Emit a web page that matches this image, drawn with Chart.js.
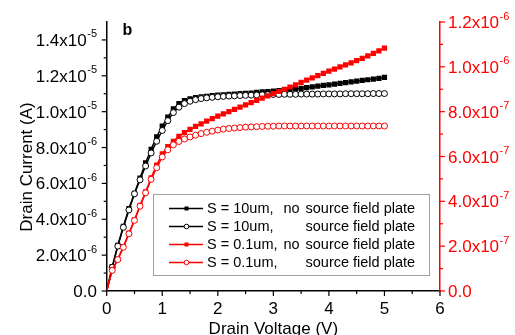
<!DOCTYPE html>
<html>
<head>
<meta charset="utf-8">
<script src="https://cdn.jsdelivr.net/npm/chart.js@4.4.0/dist/chart.umd.min.js"></script>
<style>
  html, body { margin: 0; padding: 0; background: #fff; }
  canvas { display: block; }
</style>
</head>
<body>
<canvas id="ivChart" width="515" height="335"></canvas>
<script>
// drain voltage sweep (V)
const VOLTAGE = [0, 0.1, 0.2, 0.3, 0.4, 0.5, 0.6, 0.7, 0.8, 0.9,
  1.0, 1.1, 1.2, 1.3, 1.4, 1.5, 1.6, 1.7, 1.8, 1.9,
  2.0, 2.1, 2.2, 2.3, 2.4, 2.5, 2.6, 2.7, 2.8, 2.9,
  3.0, 3.1, 3.2, 3.3, 3.4, 3.5, 3.6, 3.7, 3.8, 3.9,
  4.0, 4.1, 4.2, 4.3, 4.4, 4.5, 4.6, 4.7, 4.8, 4.9, 5.0];

// S = 10um (left axis, in 1e-6 A)
const S10_NO_FP = [0, 1.36, 2.55, 3.6, 4.6, 5.45, 6.3, 7.15, 7.9, 8.6,
  9.2, 9.7, 10.15, 10.45, 10.62, 10.72, 10.78, 10.82, 10.86, 10.89,
  10.92, 10.94, 10.96, 10.98, 11.0, 11.02, 11.04, 11.07, 11.1, 11.12,
  11.15, 11.18, 11.21, 11.24, 11.27, 11.3, 11.34, 11.38, 11.42, 11.46,
  11.5, 11.54, 11.58, 11.62, 11.66, 11.7, 11.74, 11.78, 11.82, 11.86, 11.91];
const S10_FP = [0, 1.32, 2.5, 3.55, 4.52, 5.42, 6.2, 6.97, 7.7, 8.35,
  8.95, 9.5, 9.95, 10.25, 10.45, 10.58, 10.67, 10.73, 10.77, 10.8,
  10.83, 10.85, 10.87, 10.88, 10.9, 10.91, 10.92, 10.93, 10.94, 10.95,
  10.96, 10.96, 10.97, 10.97, 10.97, 10.98, 10.98, 10.98, 10.98, 10.99,
  10.99, 10.99, 10.99, 11.0, 11.0, 11.0, 11.0, 11.0, 11.01, 11.01, 11.01];

// S = 0.1um (right axis, in 1e-7 A)
const S01_NO_FP = [0, 0.94, 1.42, 1.98, 2.58, 3.17, 3.82, 4.42, 5.05, 5.62,
  6.12, 6.44, 6.68, 6.9, 7.06, 7.21, 7.34, 7.46, 7.58, 7.69,
  7.8, 7.9, 8.0, 8.1, 8.2, 8.3, 8.4, 8.5, 8.6, 8.7,
  8.8, 8.9, 9.0, 9.1, 9.2, 9.31, 9.41, 9.51, 9.61, 9.71,
  9.81, 9.9, 10.0, 10.09, 10.18, 10.28, 10.38, 10.49, 10.6, 10.71, 10.83];
const S01_FP = [0, 0.92, 1.4, 1.95, 2.55, 3.15, 3.78, 4.38, 4.98, 5.5,
  5.98, 6.3, 6.52, 6.67, 6.78, 6.87, 6.95, 7.02, 7.08, 7.13,
  7.18, 7.22, 7.25, 7.27, 7.29, 7.31, 7.32, 7.33, 7.34, 7.35,
  7.35, 7.36, 7.36, 7.36, 7.36, 7.36, 7.36, 7.36, 7.36, 7.36,
  7.36, 7.36, 7.36, 7.36, 7.36, 7.36, 7.36, 7.36, 7.36, 7.36, 7.36];

// axis ticks
const X_TICKS = [0, 1, 2, 3, 4, 5, 6];
const X_MINOR = [0.5, 1.5, 2.5, 3.5, 4.5, 5.5];
const LEFT_TICKS = [0, 2e-6, 4e-6, 6e-6, 8e-6, 1e-5, 1.2e-5, 1.4e-5];
const LEFT_MINOR = [1e-6, 3e-6, 5e-6, 7e-6, 9e-6, 1.1e-5, 1.3e-5];
const LEFT_TICK_LABELS = [['0.0', ''], ['2.0x10', '-6'], ['4.0x10', '-6'], ['6.0x10', '-6'],
  ['8.0x10', '-6'], ['1.0x10', '-5'], ['1.2x10', '-5'], ['1.4x10', '-5']];
const RIGHT_TICKS = [0, 2e-7, 4e-7, 6e-7, 8e-7, 1e-6, 1.2e-6];
const RIGHT_MINOR = [1e-7, 3e-7, 5e-7, 7e-7, 9e-7, 1.1e-6];
const RIGHT_TICK_LABELS = [['0.0', ''], ['2.0x10', '-7'], ['4.0x10', '-7'], ['6.0x10', '-7'],
  ['8.0x10', '-7'], ['1.0x10', '-6'], ['1.2x10', '-6']];

const LEGEND_ROWS = [
  ['S = 10um,', 'no', 'source field plate'],
  ['S = 10um,', '', 'source field plate'],
  ['S = 0.1um,', 'no', 'source field plate'],
  ['S = 0.1um,', '', 'source field plate']
];

const FONT = '"Liberation Sans", Arial, sans-serif';
const RED = '#ff0000';

const toPoints = (vals, unit) => VOLTAGE.map((v, i) => ({ x: v, y: vals[i] * unit }));
const hideFirst = r => c => (c.dataIndex === 0 ? 0 : r);

function sciLabel(ctx, parts, x, y, align) {
  ctx.font = `17px ${FONT}`;
  const mainW = ctx.measureText(parts[0]).width;
  ctx.font = `11px ${FONT}`;
  const expW = parts[1] ? ctx.measureText(parts[1]).width + 0.5 : 0;
  const left = align === 'right' ? x - mainW - expW : x;
  ctx.textAlign = 'left';
  ctx.textBaseline = 'alphabetic';
  ctx.font = `17px ${FONT}`;
  ctx.fillText(parts[0], left, y + 6);
  if (parts[1]) {
    ctx.font = `11px ${FONT}`;
    ctx.fillText(parts[1], left + mainW + 0.5, y - 2.5);
  }
}

function vTicks(ctx, scale, values, x, len) {
  values.forEach(v => {
    const y = scale.getPixelForValue(v);
    ctx.beginPath();
    ctx.moveTo(x, y);
    ctx.lineTo(x + len, y);
    ctx.stroke();
  });
}

const decorations = {
  id: 'decorations',
  afterDraw(chart) {
    const { ctx, chartArea: a, scales } = chart;
    const xs = scales.x, yl = scales.y, yr = scales.y2;
    ctx.save();

    // x ticks
    ctx.strokeStyle = '#000';
    ctx.lineWidth = 1.2;
    X_TICKS.concat(X_MINOR).forEach(v => {
      const px = xs.getPixelForValue(v);
      ctx.beginPath();
      ctx.moveTo(px, a.bottom);
      ctx.lineTo(px, a.bottom + (X_TICKS.includes(v) ? 5 : 3));
      ctx.stroke();
    });
    ctx.fillStyle = '#000';
    ctx.font = `17px ${FONT}`;
    ctx.textAlign = 'center';
    ctx.textBaseline = 'alphabetic';
    X_TICKS.forEach(v => ctx.fillText(String(v), xs.getPixelForValue(v), 314));

    // left axis
    vTicks(ctx, yl, LEFT_TICKS, a.left, -5);
    vTicks(ctx, yl, LEFT_MINOR, a.left, -3);
    LEFT_TICKS.forEach((v, i) => sciLabel(ctx, LEFT_TICK_LABELS[i], 97, yl.getPixelForValue(v), 'right'));

    // right axis
    ctx.strokeStyle = RED;
    ctx.fillStyle = RED;
    vTicks(ctx, yr, RIGHT_TICKS, a.right, 5);
    vTicks(ctx, yr, RIGHT_MINOR, a.right, 3);
    RIGHT_TICKS.forEach((v, i) => sciLabel(ctx, RIGHT_TICK_LABELS[i], 448, yr.getPixelForValue(v), 'left'));

    // axis titles
    ctx.fillStyle = '#000';
    ctx.font = `17px ${FONT}`;
    ctx.textAlign = 'center';
    ctx.fillText('Drain Voltage (V)', (a.left + a.right) / 2, 333.5);
    ctx.save();
    ctx.translate(31.5, 167);
    ctx.rotate(-Math.PI / 2);
    ctx.fillText('Drain Current (A)', 0, 0);
    ctx.restore();

    // panel letter
    ctx.font = `bold 16px ${FONT}`;
    ctx.textAlign = 'left';
    ctx.fillText('b', 122.5, 35);

    // legend
    ctx.fillStyle = '#fff';
    ctx.fillRect(153.5, 194.5, 276, 81);
    ctx.strokeStyle = '#a0a0a0';
    ctx.lineWidth = 1;
    ctx.strokeRect(153.5, 194.5, 276, 81);
    const ds = chart.data.datasets;
    LEGEND_ROWS.forEach((row, i) => {
      const y = 208.5 + 18 * i;
      const d = ds[i];
      ctx.strokeStyle = d.borderColor;
      ctx.lineWidth = 1.5;
      ctx.beginPath();
      ctx.moveTo(169, y);
      ctx.lineTo(203, y);
      ctx.stroke();
      if (d.pointStyle === 'rect') {
        ctx.fillStyle = d.borderColor;
        ctx.fillRect(184.5, y - 2, 4, 4);
      } else {
        ctx.fillStyle = '#fff';
        ctx.lineWidth = 1;
        ctx.beginPath();
        ctx.arc(186.5, y, 2.3, 0, Math.PI * 2);
        ctx.fill();
        ctx.stroke();
      }
      ctx.fillStyle = '#000';
      ctx.font = `14.5px ${FONT}`;
      ctx.textBaseline = 'middle';
      ctx.fillText(row[0], 207, y);
      if (row[1]) ctx.fillText(row[1], 283.5, y);
      ctx.fillText(row[2], 305.5, y);
    });
    ctx.restore();
  }
};

new Chart(document.getElementById('ivChart'), {
  type: 'scatter',
  data: {
    datasets: [
      {
        label: 'S = 10um, no source field plate',
        data: toPoints(S10_NO_FP, 1e-6),
        yAxisID: 'y',
        borderColor: '#000',
        backgroundColor: '#000',
        pointStyle: 'rect',
        pointRadius: hideFirst(3.7),
        pointBorderWidth: 0,
        order: 3
      },
      {
        label: 'S = 10um, source field plate',
        data: toPoints(S10_FP, 1e-6),
        yAxisID: 'y',
        borderColor: '#000',
        backgroundColor: '#fff',
        pointStyle: 'circle',
        pointRadius: hideFirst(3),
        pointBorderWidth: 1,
        order: 2
      },
      {
        label: 'S = 0.1um, no source field plate',
        data: toPoints(S01_NO_FP, 1e-7),
        yAxisID: 'y2',
        borderColor: RED,
        backgroundColor: RED,
        pointStyle: 'rect',
        pointRadius: hideFirst(3.7),
        pointBorderWidth: 0,
        order: 1
      },
      {
        label: 'S = 0.1um, source field plate',
        data: toPoints(S01_FP, 1e-7),
        yAxisID: 'y2',
        borderColor: RED,
        backgroundColor: '#fff',
        pointStyle: 'circle',
        pointRadius: hideFirst(3),
        pointBorderWidth: 1,
        order: 0
      }
    ].map(d => Object.assign(d, { showLine: true, borderWidth: 1.5, tension: 0 }))
  },
  options: {
    responsive: false,
    devicePixelRatio: 1,
    animation: false,
    events: [],
    layout: { padding: { top: 22, left: 0, right: 0, bottom: 0 } },
    plugins: { legend: { display: false }, tooltip: { enabled: false } },
    scales: {
      x: {
        type: 'linear', position: 'bottom', min: 0, max: 6,
        ticks: { display: false },
        grid: { display: false },
        border: { color: '#000', width: 1.5 },
        afterFit: s => { s.height = 44; }
      },
      y: {
        type: 'linear', position: 'left', min: 0, max: 1.5e-5,
        ticks: { display: false },
        grid: { display: false },
        border: { color: '#000', width: 1.5 },
        afterFit: s => { s.width = 106.7; }
      },
      y2: {
        type: 'linear', position: 'right', min: 0, max: 1.2e-6,
        ticks: { display: false },
        grid: { display: false },
        border: { color: RED, width: 1.5 },
        afterFit: s => { s.width = 75; }
      }
    }
  },
  plugins: [decorations]
});
</script>
</body>
</html>
